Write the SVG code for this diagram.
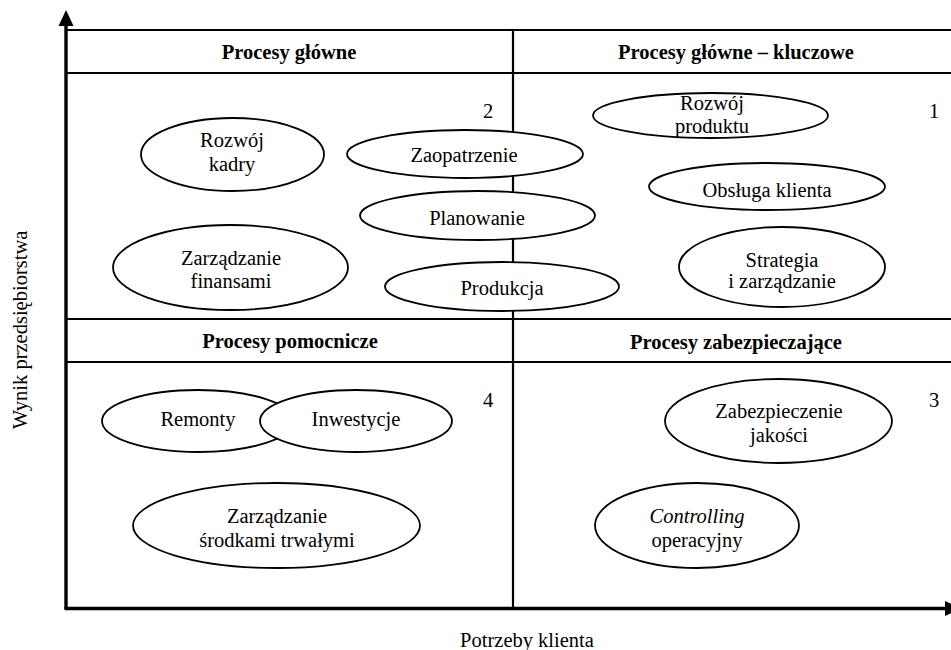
<svg xmlns="http://www.w3.org/2000/svg" width="951" height="650" viewBox="0 0 951 650">
<style>
text{font-family:"Liberation Serif","Times New Roman",serif;font-size:20.5px;fill:#000;text-anchor:middle}
.h{font-weight:bold}
.grid{stroke:#000;stroke-width:2.2;fill:none}
.axis{stroke:#000;stroke-width:3.4;fill:none}
ellipse{fill:#fff;stroke:#000;stroke-width:1.8}
</style>
<rect x="0" y="0" width="951" height="650" fill="#fff"/>
<g id="frame">
<line class="grid" x1="66" y1="30" x2="951" y2="30"/>
<line class="grid" x1="66" y1="73" x2="951" y2="73"/>
<line class="grid" x1="66" y1="319" x2="951" y2="319"/>
<line class="grid" x1="66" y1="362" x2="951" y2="362"/>
<line class="grid" x1="513" y1="30" x2="513" y2="608"/>
</g>
<g id="axes">
<line class="axis" x1="66" y1="609" x2="66" y2="24"/>
<polygon points="58.5,26 73.5,26 66,10" fill="#000"/>
<line class="axis" x1="64.5" y1="608.5" x2="947" y2="608.5"/>
<polygon points="945,601 961,608.5 945,616" fill="#000"/>
<text transform="translate(27,330) rotate(-90)">Wynik przedsiębiorstwa</text>
<text x="527" y="647">Potrzeby klienta</text>
</g>
<g id="headers">
<text class="h" x="289" y="59">Procesy główne</text>
<text class="h" x="736" y="59">Procesy główne – kluczowe</text>
<text class="h" x="290" y="348">Procesy pomocnicze</text>
<text class="h" x="736" y="349">Procesy zabezpieczające</text>
<text x="488" y="118">2</text>
<text x="934" y="118">1</text>
<text x="488" y="407">4</text>
<text x="934" y="407">3</text>
</g>
<g id="rozwoj-kadry">
<ellipse cx="232.5" cy="154.5" rx="91.5" ry="36.5"/>
<text x="232" y="147">Rozwój</text>
<text x="232" y="171">kadry</text>
</g>
<g id="zarzadzanie-finansami">
<ellipse cx="230.5" cy="267.5" rx="117.5" ry="42.5"/>
<text x="231" y="265">Zarządzanie</text>
<text x="231" y="288">finansami</text>
</g>
<g id="zaopatrzenie">
<ellipse cx="465" cy="154" rx="118" ry="24"/>
<text x="464" y="162">Zaopatrzenie</text>
</g>
<g id="planowanie">
<ellipse cx="477.5" cy="215.5" rx="117.5" ry="24.5"/>
<text x="477" y="225">Planowanie</text>
</g>
<g id="produkcja">
<ellipse cx="502" cy="286.5" rx="117" ry="24.5"/>
<text x="502" y="295">Produkcja</text>
</g>
<g id="rozwoj-produktu">
<ellipse cx="710.5" cy="115.5" rx="117.5" ry="22.5"/>
<text x="712" y="110">Rozwój</text>
<text x="712" y="133">produktu</text>
</g>
<g id="obsluga-klienta">
<ellipse cx="767" cy="186.5" rx="118" ry="23.5"/>
<text x="767" y="197">Obsługa klienta</text>
</g>
<g id="strategia">
<ellipse cx="782" cy="267" rx="103" ry="40"/>
<text x="782" y="267">Strategia</text>
<text x="782" y="288">i zarządzanie</text>
</g>
<g id="remonty">
<ellipse cx="198" cy="421" rx="96" ry="31"/>
<text x="198" y="426">Remonty</text>
</g>
<g id="inwestycje">
<ellipse cx="356" cy="421" rx="96" ry="31"/>
<text x="356" y="426">Inwestycje</text>
</g>
<g id="zarzadzanie-srodkami">
<ellipse cx="276.5" cy="525.5" rx="143.5" ry="42.5"/>
<text x="277" y="523">Zarządzanie</text>
<text x="277" y="547">środkami trwałymi</text>
</g>
<g id="zabezpieczenie-jakosci">
<ellipse cx="778.5" cy="421" rx="113.5" ry="42"/>
<text x="779" y="418">Zabezpieczenie</text>
<text x="779" y="442">jakości</text>
</g>
<g id="controlling">
<ellipse cx="697" cy="525.5" rx="102" ry="42.5"/>
<text x="697" y="523"><tspan font-style="italic">Controlling</tspan></text>
<text x="697" y="547">operacyjny</text>
</g>
<g id="connectors"></g>
</svg>
